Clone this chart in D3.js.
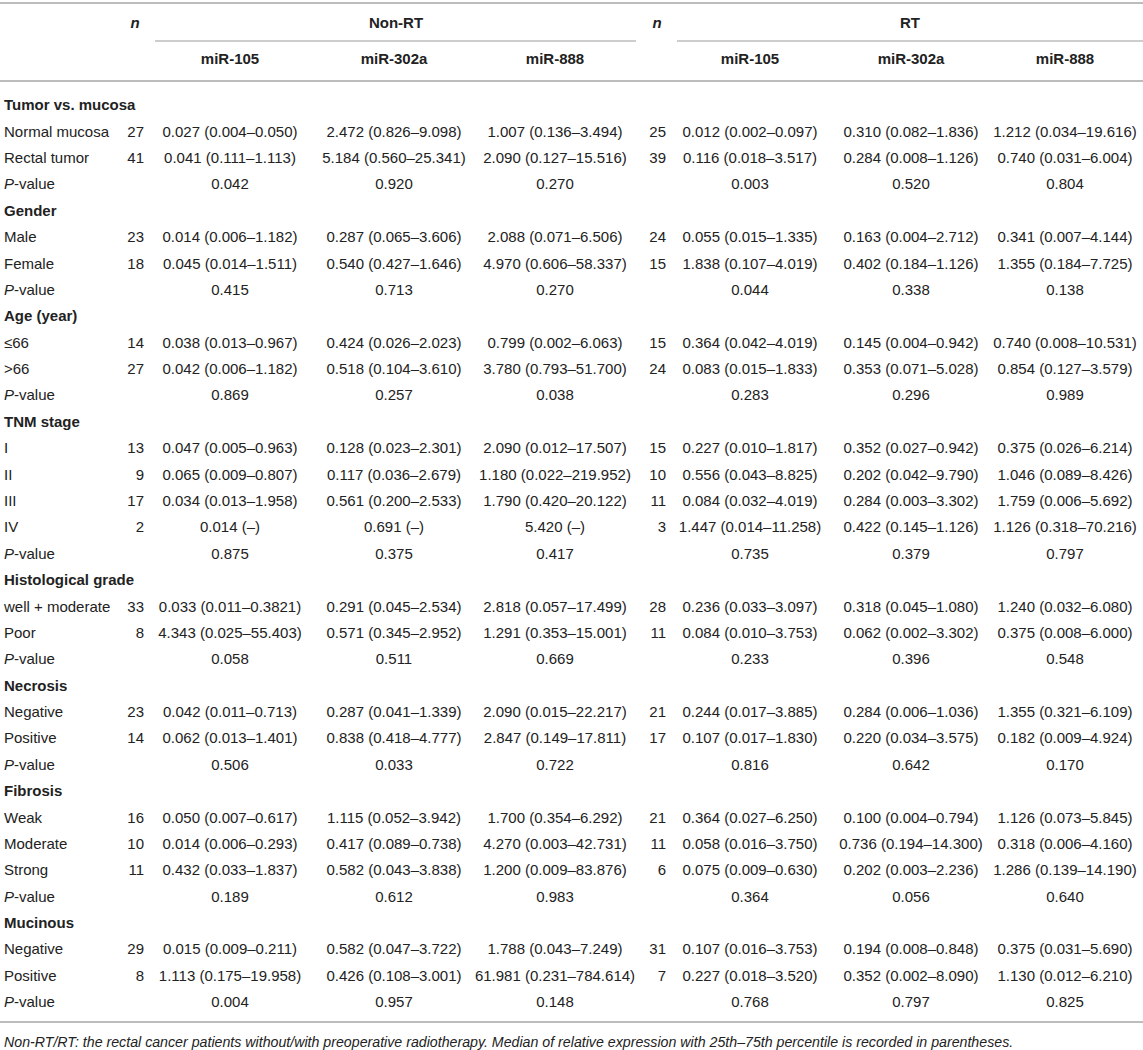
<!DOCTYPE html>
<html lang="en">
<head>
    <meta charset="UTF-8">
    <title>miR-105, miR-302a and miR-888 expression in rectal cancer</title>
    <script src="https://d3js.org/d3.v7.min.js"></script>
    <style>
        body { margin: 0; background: #fff; }
        text { font-family: "Liberation Sans", Arial, Helvetica, sans-serif; fill: #222; }
    </style>
</head>
<body>
    <svg width="1143" height="1050"></svg>

    <script>
        // Grupe i podgrupe
        const groups = ["Tumor vs. mucosa", "Gender", "Age (year)", "TNM stage",
            "Histological grade", "Necrosis", "Fibrosis", "Mucinous"];

        const subgroups = [
            ["Normal mucosa", "Rectal tumor"],
            ["Male", "Female"],
            ["≤66", ">66"],
            ["I", "II", "III", "IV"],
            ["well + moderate", "Poor"],
            ["Negative", "Positive"],
            ["Weak", "Moderate", "Strong"],
            ["Negative", "Positive"]
        ];

        // n za Non-RT i RT
        const nNonRT = [[27, 41], [23, 18], [14, 27], [13, 9, 17, 2], [33, 8], [23, 14], [16, 10, 11], [29, 8]];
        const nRT = [[25, 39], [24, 15], [15, 24], [15, 10, 11, 3], [28, 11], [21, 17], [21, 11, 6], [31, 7]];

        // Non-RT vrijednosti
        const nonRT105 = [
            ["0.027 (0.004–0.050)", "0.041 (0.111–1.113)"],
            ["0.014 (0.006–1.182)", "0.045 (0.014–1.511)"],
            ["0.038 (0.013–0.967)", "0.042 (0.006–1.182)"],
            ["0.047 (0.005–0.963)", "0.065 (0.009–0.807)", "0.034 (0.013–1.958)", "0.014 (–)"],
            ["0.033 (0.011–0.3821)", "4.343 (0.025–55.403)"],
            ["0.042 (0.011–0.713)", "0.062 (0.013–1.401)"],
            ["0.050 (0.007–0.617)", "0.014 (0.006–0.293)", "0.432 (0.033–1.837)"],
            ["0.015 (0.009–0.211)", "1.113 (0.175–19.958)"]
        ];
        const nonRT302a = [
            ["2.472 (0.826–9.098)", "5.184 (0.560–25.341)"],
            ["0.287 (0.065–3.606)", "0.540 (0.427–1.646)"],
            ["0.424 (0.026–2.023)", "0.518 (0.104–3.610)"],
            ["0.128 (0.023–2.301)", "0.117 (0.036–2.679)", "0.561 (0.200–2.533)", "0.691 (–)"],
            ["0.291 (0.045–2.534)", "0.571 (0.345–2.952)"],
            ["0.287 (0.041–1.339)", "0.838 (0.418–4.777)"],
            ["1.115 (0.052–3.942)", "0.417 (0.089–0.738)", "0.582 (0.043–3.838)"],
            ["0.582 (0.047–3.722)", "0.426 (0.108–3.001)"]
        ];
        const nonRT888 = [
            ["1.007 (0.136–3.494)", "2.090 (0.127–15.516)"],
            ["2.088 (0.071–6.506)", "4.970 (0.606–58.337)"],
            ["0.799 (0.002–6.063)", "3.780 (0.793–51.700)"],
            ["2.090 (0.012–17.507)", "1.180 (0.022–219.952)", "1.790 (0.420–20.122)", "5.420 (–)"],
            ["2.818 (0.057–17.499)", "1.291 (0.353–15.001)"],
            ["2.090 (0.015–22.217)", "2.847 (0.149–17.811)"],
            ["1.700 (0.354–6.292)", "4.270 (0.003–42.731)", "1.200 (0.009–83.876)"],
            ["1.788 (0.043–7.249)", "61.981 (0.231–784.614)"]
        ];

        // RT vrijednosti
        const rt105 = [
            ["0.012 (0.002–0.097)", "0.116 (0.018–3.517)"],
            ["0.055 (0.015–1.335)", "1.838 (0.107–4.019)"],
            ["0.364 (0.042–4.019)", "0.083 (0.015–1.833)"],
            ["0.227 (0.010–1.817)", "0.556 (0.043–8.825)", "0.084 (0.032–4.019)", "1.447 (0.014–11.258)"],
            ["0.236 (0.033–3.097)", "0.084 (0.010–3.753)"],
            ["0.244 (0.017–3.885)", "0.107 (0.017–1.830)"],
            ["0.364 (0.027–6.250)", "0.058 (0.016–3.750)", "0.075 (0.009–0.630)"],
            ["0.107 (0.016–3.753)", "0.227 (0.018–3.520)"]
        ];
        const rt302a = [
            ["0.310 (0.082–1.836)", "0.284 (0.008–1.126)"],
            ["0.163 (0.004–2.712)", "0.402 (0.184–1.126)"],
            ["0.145 (0.004–0.942)", "0.353 (0.071–5.028)"],
            ["0.352 (0.027–0.942)", "0.202 (0.042–9.790)", "0.284 (0.003–3.302)", "0.422 (0.145–1.126)"],
            ["0.318 (0.045–1.080)", "0.062 (0.002–3.302)"],
            ["0.284 (0.006–1.036)", "0.220 (0.034–3.575)"],
            ["0.100 (0.004–0.794)", "0.736 (0.194–14.300)", "0.202 (0.003–2.236)"],
            ["0.194 (0.008–0.848)", "0.352 (0.002–8.090)"]
        ];
        const rt888 = [
            ["1.212 (0.034–19.616)", "0.740 (0.031–6.004)"],
            ["0.341 (0.007–4.144)", "1.355 (0.184–7.725)"],
            ["0.740 (0.008–10.531)", "0.854 (0.127–3.579)"],
            ["0.375 (0.026–6.214)", "1.046 (0.089–8.426)", "1.759 (0.006–5.692)", "1.126 (0.318–70.216)"],
            ["1.240 (0.032–6.080)", "0.375 (0.008–6.000)"],
            ["1.355 (0.321–6.109)", "0.182 (0.009–4.924)"],
            ["1.126 (0.073–5.845)", "0.318 (0.006–4.160)", "1.286 (0.139–14.190)"],
            ["0.375 (0.031–5.690)", "1.130 (0.012–6.210)"]
        ];

        // P-vrijednosti po stupcu
        const pNonRT105 = ["0.042", "0.415", "0.869", "0.875", "0.058", "0.506", "0.189", "0.004"];
        const pNonRT302a = ["0.920", "0.713", "0.257", "0.375", "0.511", "0.033", "0.612", "0.957"];
        const pNonRT888 = ["0.270", "0.270", "0.038", "0.417", "0.669", "0.722", "0.983", "0.148"];
        const pRT105 = ["0.003", "0.044", "0.283", "0.735", "0.233", "0.816", "0.364", "0.768"];
        const pRT302a = ["0.520", "0.338", "0.296", "0.379", "0.396", "0.642", "0.056", "0.797"];
        const pRT888 = ["0.804", "0.138", "0.989", "0.797", "0.548", "0.170", "0.640", "0.825"];

        const miRs = ["miR-105", "miR-302a", "miR-888"];
        const footnote = "Non-RT/RT: the rectal cancer patients without/with preoperative radiotherapy. Median of relative expression with 25th–75th percentile is recorded in parentheses.";

        const valueCols = [nonRT105, nonRT302a, nonRT888, rt105, rt302a, rt888];
        const pCols = [pNonRT105, pNonRT302a, pNonRT888, pRT105, pRT302a, pRT888];

        // Slaganje redova tablice
        const rows = [];
        groups.forEach((g, gi) => {
            rows.push({ type: "group", label: g });
            subgroups[gi].forEach((s, si) => {
                rows.push({
                    type: "data", label: s,
                    nNon: nNonRT[gi][si], nRt: nRT[gi][si],
                    vals: valueCols.map(c => c[gi][si])
                });
            });
            rows.push({ type: "p", vals: pCols.map(c => c[gi]) });
        });

        const svg = d3.select("svg");

        // Skale
        const colKeys = ["c0", "c1", "c2", "c3", "c4", "c5"];
        const x = d3.scaleOrdinal()
            .domain(colKeys)
            .range([230, 394, 555, 750, 911, 1065]);

        const y = d3.scalePoint()
            .domain(d3.range(rows.length))
            .range([105, 1002]);

        const xLabel = 4, xNNon = 144, xNRt = 666;

        // Linije
        const lineColor = "#bcbcbc";
        const hline = (x1, x2, yy, w) => svg.append("line")
            .attr("x1", x1).attr("x2", x2)
            .attr("y1", yy).attr("y2", yy)
            .attr("stroke", lineColor)
            .attr("stroke-width", w);

        hline(0, 1143, 3, 2);
        hline(155, 636, 41, 1.5);
        hline(677, 1143, 41, 1.5);
        hline(0, 1143, 81, 2);
        hline(0, 1143, 1022, 2);

        // Zaglavlje
        const head = svg.append("g").attr("font-size", 15).attr("font-weight", "bold");
        head.selectAll("text.n")
            .data([135, 657])
            .join("text")
            .attr("x", d => d).attr("y", 23).attr("dy", "0.35em")
            .attr("text-anchor", "middle")
            .style("font-style", "italic")
            .text("n");

        head.selectAll("text.grp")
            .data([["Non-RT", 396], ["RT", 910]])
            .join("text")
            .attr("x", d => d[1]).attr("y", 23).attr("dy", "0.35em")
            .attr("text-anchor", "middle")
            .text(d => d[0]);

        head.selectAll("text.mir")
            .data(colKeys)
            .join("text")
            .attr("x", d => x(d)).attr("y", 59).attr("dy", "0.35em")
            .attr("text-anchor", "middle")
            .text((d, i) => miRs[i % 3]);

        // Tijelo tablice
        const body = svg.append("g").attr("font-size", 15);

        const rowG = body.selectAll("g.row")
            .data(rows)
            .join("g")
            .attr("transform", (d, i) => `translate(0,${y(i)})`);

        rowG.filter(d => d.type === "group")
            .append("text")
            .attr("x", xLabel).attr("dy", "0.35em")
            .attr("font-weight", "bold")
            .text(d => d.label);

        rowG.filter(d => d.type === "data")
            .append("text")
            .attr("x", xLabel).attr("dy", "0.35em")
            .text(d => d.label);

        const pLabel = rowG.filter(d => d.type === "p")
            .append("text")
            .attr("x", xLabel).attr("dy", "0.35em");
        pLabel.append("tspan").style("font-style", "italic").text("P");
        pLabel.append("tspan").text("-value");

        const dataRows = rowG.filter(d => d.type === "data");
        dataRows.append("text")
            .attr("x", xNNon).attr("dy", "0.35em")
            .attr("text-anchor", "end")
            .text(d => d.nNon);
        dataRows.append("text")
            .attr("x", xNRt).attr("dy", "0.35em")
            .attr("text-anchor", "end")
            .text(d => d.nRt);

        rowG.filter(d => d.type !== "group")
            .selectAll("text.val")
            .data(d => d.vals.map((v, i) => ({ key: colKeys[i], v })))
            .join("text")
            .attr("class", "val")
            .attr("x", d => x(d.key)).attr("dy", "0.35em")
            .attr("text-anchor", "middle")
            .text(d => d.v);

        // Fusnota
        svg.append("text")
            .attr("x", xLabel).attr("y", 1042).attr("dy", "0.35em")
            .attr("font-size", 14.2)
            .style("font-style", "italic")
            .text(footnote);
    </script>
</body>
</html>
